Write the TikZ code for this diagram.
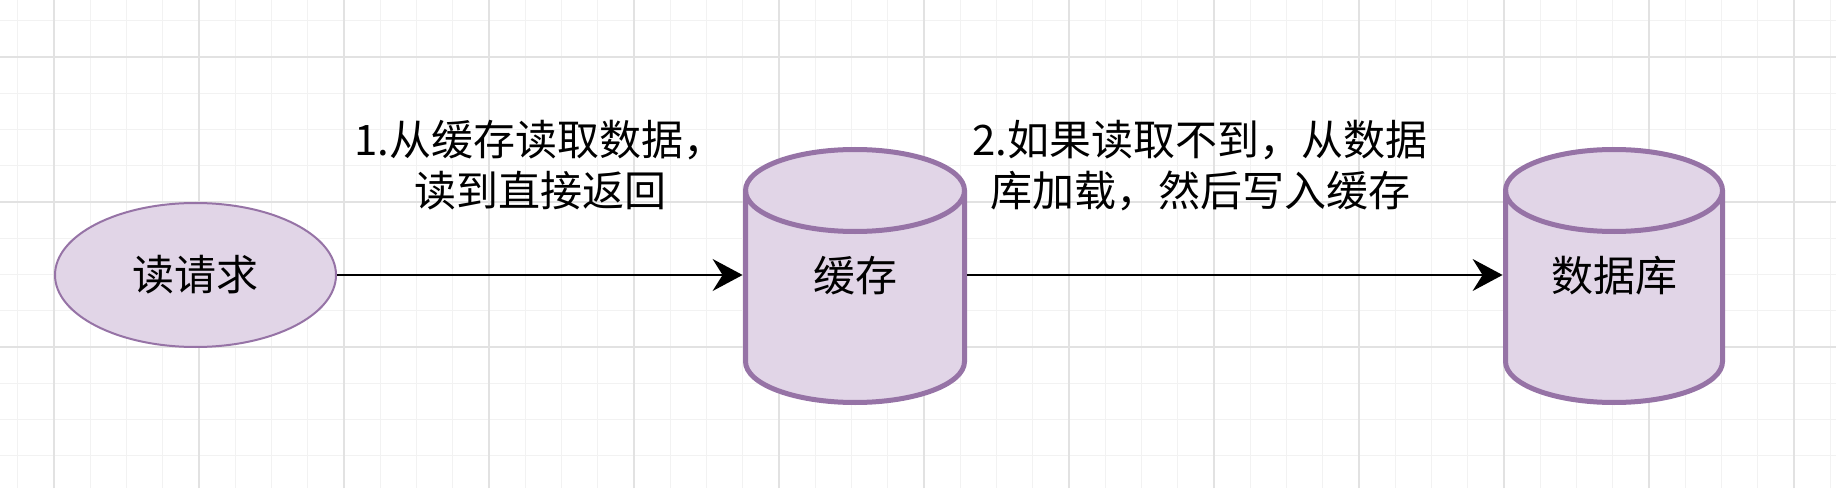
\documentclass[tikz,border=0pt]{standalone}
\usepackage{fontspec}
\setmainfont{Noto Sans CJK SC}
\usetikzlibrary{shapes.geometric,arrows.meta}
\definecolor{pfill}{HTML}{E1D5E7}
\definecolor{pline}{HTML}{9673A6}
\definecolor{gminor}{HTML}{F2F2F2}
\definecolor{gmajor}{HTML}{E2E2E2}
\tikzset{
  lbl/.style={font=\fontsize{21pt}{25.5pt}\selectfont, align=center, inner sep=0pt},
  reqnode/.style={ellipse, draw=pline, fill=pfill, line width=1pt, minimum width=140.5pt, minimum height=72pt, inner sep=0pt, font=\fontsize{21pt}{25.5pt}\selectfont},
  cylbox/.style={rectangle, draw=none, inner sep=0pt, minimum height=129pt, font=\fontsize{21pt}{25.5pt}\selectfont},
  cylline/.style={draw=pline, line width=2.5pt},
  arr/.style={draw=black, line width=1pt, -{Stealth[length=15pt, width=16pt, inset=5pt]}}
}
\begin{document}
\begin{tikzpicture}[x=0.5pt, y=0.5pt]
\useasboundingbox (0,0) rectangle (1836,488);
\fill[white] (0,0) rectangle (1836,488);
% grid
\foreach \k in {0,...,50} {
  \draw[gminor, line width=0.6pt] ({17.75+36.25*\k},0) -- ({17.75+36.25*\k},488);
}
\foreach \k in {0,...,12} {
  \draw[gminor, line width=0.6pt] (0,{467.25-36.25*\k}) -- (1836,{467.25-36.25*\k});
}
\foreach \k in {0,...,12} {
  \draw[gmajor, line width=0.8pt] ({54+145*\k},0) -- ({54+145*\k},488);
}
\foreach \k in {0,...,2} {
  \draw[gmajor, line width=0.8pt] (0,{431-145*\k}) -- (1836,{431-145*\k});
}
% cylinder: cache
\path[fill=pfill, cylline] (745.5,297.5) -- (745.5,126.5)
  arc[start angle=180, end angle=360, x radius=54.75pt, y radius=20.5pt]
  -- (964.5,297.5)
  arc[start angle=0, end angle=180, x radius=54.75pt, y radius=20.5pt] -- cycle;
\draw[cylline] (745.5,297.5) arc[start angle=180, end angle=360, x radius=54.75pt, y radius=20.5pt];
% cylinder: database
\path[fill=pfill, cylline] (1505.5,297.5) -- (1505.5,126.5)
  arc[start angle=180, end angle=360, x radius=54.25pt, y radius=20.5pt]
  -- (1722.5,297.5)
  arc[start angle=0, end angle=180, x radius=54.25pt, y radius=20.5pt] -- cycle;
\draw[cylline] (1505.5,297.5) arc[start angle=180, end angle=360, x radius=54.25pt, y radius=20.5pt];
% nodes
\node[reqnode] (req) at (195.5,213) {读请求};
\node[cylbox, minimum width=112pt] (cache) at (855,212) {缓存};
\node[cylbox, minimum width=111pt] (db) at (1614,212) {数据库};
% connectors
\draw[arr] (req.east) -- (cache.west |- req.east);
\draw[arr] (cache.east |- req.east) -- (db.west |- req.east);
% labels
\node[lbl] (l1) at (540,323) {1.从缓存读取数据，\\读到直接返回};
\node[lbl] (l2) at (1200,322) {2.如果读取不到，从数据\\库加载，然后写入缓存};
\end{tikzpicture}
\end{document}
